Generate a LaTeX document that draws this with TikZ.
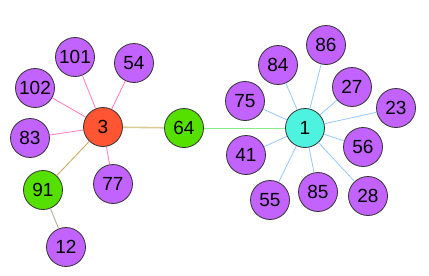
\documentclass[tikz,border=0pt]{standalone}
\usepackage{fontspec}
\setmainfont{Liberation Sans}
\usepackage{xcolor}
\usetikzlibrary{positioning}
\definecolor{leafpurple}{RGB}{194, 98, 255}
\definecolor{hubred}{RGB}{255, 85, 51}
\definecolor{hubcyan}{RGB}{78, 243, 224}
\definecolor{linkgreen}{RGB}{85, 224, 0}
\definecolor{edgepink}{RGB}{255, 120, 190}
\definecolor{edgekhaki}{RGB}{215, 205, 150}
\definecolor{edgegold}{RGB}{200, 165, 80}
\definecolor{edgegray}{RGB}{170, 170, 150}
\definecolor{edgelime}{RGB}{140, 235, 140}
\definecolor{edgeblue}{RGB}{150, 200, 255}

\begin{document}
\begin{tikzpicture}[
    x=1pt, y=-1pt,
    vertex/.style={circle, draw=black!80, line width=0.8pt, minimum size=39pt, inner sep=0pt, font=\fontsize{19}{19}\selectfont},
    leaf/.style={vertex, fill=leafpurple},
    bridge/.style={vertex, fill=linkgreen},
    edgestyle/.style={line width=0.8pt}
]
\useasboundingbox (0,0) rectangle (429,276);

% Left hub
\node[vertex, fill=hubred] (n3) at (103,127) {3};
\node[leaf] (n101) at (75,57) {101};
\node[leaf] (n54) at (134,63) {54};
\node[leaf] (n102) at (35,88) {102};
\node[leaf] (n83) at (30,138) {83};
\node[leaf] (n77) at (113,184) {77};
\node[bridge] (n91) at (43,190) {91};
\node[leaf] (n12) at (66,247) {12};

% Bridge
\node[bridge] (n64) at (184,128) {64};

% Right hub
\node[vertex, fill=hubcyan] (n1) at (305,128) {1};
\node[leaf] (n86) at (326,45) {86};
\node[leaf] (n84) at (278,65) {84};
\node[leaf] (n27) at (352,87) {27};
\node[leaf] (n75) at (245,101) {75};
\node[leaf] (n23) at (396,108) {23};
\node[leaf] (n56) at (363,147) {56};
\node[leaf] (n41) at (246,155) {41};
\node[leaf] (n55) at (270,200) {55};
\node[leaf] (n85) at (318,192) {85};
\node[leaf] (n28) at (368,196) {28};

\foreach \leafname in {n101, n54, n102, n83, n77}
  \draw[edgestyle, edgepink] (n3) -- (\leafname);
\draw[edgestyle, edgegold] (n3) -- (n91);
\draw[edgestyle, edgegray] (n91) -- (n12);
\draw[line width=1.6pt, edgekhaki] (n3) -- (n64);
\draw[line width=1pt, edgelime] (n64) -- (n1);
\foreach \leafname in {n86, n84, n27, n75, n23, n56, n41, n55, n85, n28}
  \draw[edgestyle, edgeblue] (n1) -- (\leafname);
\end{tikzpicture}
\end{document}
